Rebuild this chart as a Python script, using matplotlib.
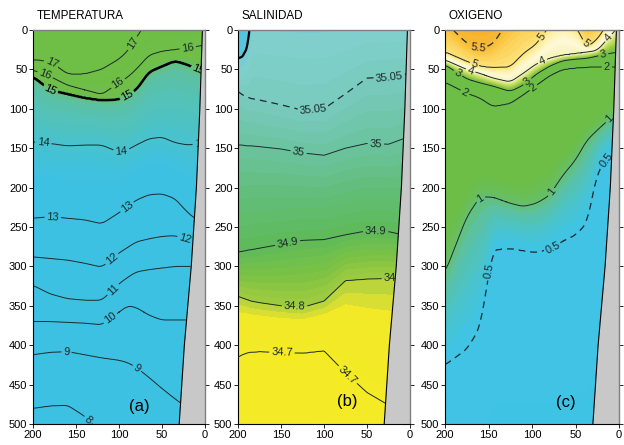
import numpy as np
import matplotlib
matplotlib.use("Agg")
import matplotlib.pyplot as plt
from matplotlib.colors import LinearSegmentedColormap
from matplotlib import font_manager

# ---------------- DATA ----------------
# Temperature: depth (m) of each isotherm at each station (distance, km)
t_stations = [200, 180, 160, 140, 120, 100, 90, 80, 65, 50, 35, 20, 5, 0]
t_levels = [18, 17, 16, 15, 14, 13, 12, 11, 10, 9, 8, 7]
t_depths = [
    [-60] * 14,
    [38, 40, 56, 56, 50, 37, 27, 10, -15, -20, -20, -20, -20, -20],
    [51, 59, 70, 76, 82, 67, 60, 50, 32, 27, 25, 23, 20, 19],
    [59, 76, 81, 86, 89, 88, 82, 76, 53, 46, 39, 44, 52, 54],
    [142, 144, 147, 146, 146, 155, 152, 146, 138, 136, 143, 146, 144, 144],
    [239, 237, 239, 241, 246, 232, 224, 216, 209, 208, 214, 232, 245, 250],
    [288, 290, 292, 296, 301, 283, 276, 269, 265, 262, 261, 266, 270, 272],
    [324, 335, 341, 343, 343, 322, 314, 307, 304, 302, 300, 300, 300, 300],
    [370, 370, 371, 372, 374, 358, 350, 352, 362, 368, 368, 368, 368, 368],
    [412, 409, 408, 412, 416, 419, 422, 428, 441, 455, 468, 480, 490, 492],
    [480, 477, 476, 490, 512, 525, 530, 535, 540, 545, 550, 555, 560, 560],
    [640] * 14,
]

# Salinity: depth of each isohaline at each station
s_stations = [200, 195, 190, 187, 185, 175, 150, 125, 100, 75, 50, 25, 0]
s_levels = [35.2, 35.1, 35.05, 35.0, 34.9, 34.8, 34.7, 34.6]
s_depths = [
    [-80] * 13,
    [36, 34, 24, 4, -25, -30, -30, -30, -30, -30, -30, -30, -30],
    [78, 82, 85, 86, 87, 89, 95, 102, 100, 81, 61, 60, 55],
    [146, 146, 147, 147, 147, 148, 151, 156, 159, 150, 144, 145, 135],
    [282, 281, 280, 279, 279, 277, 272, 267, 266, 260, 255, 256, 262],
    [338, 340, 342, 343, 344, 346, 350, 352, 344, 318, 316, 315, 315],
    [415, 412, 410, 409, 409, 408, 409, 410, 407, 435, 460, 476, 490],
    [650] * 13,
]

# Oxygen: depth of each iso-oxygen line at each station
o_stations = [200, 175, 160, 145, 125, 110, 95, 80, 65, 50, 37, 25, 12, 0]
o_levels = [6.0, 5.5, 5.0, 4.0, 3.0, 2.0, 1.0, 0.5, 0.0]
o_depths = [
    [-60] * 14,
    [-10, 17, 24, 18, -15, -30, -30, -30, -30, -25, -5, -15, -30, -40],
    [28, 40, 46, 48, 47, 30, 18, -5, -20, -5, 22, 12, -10, -20],
    [38, 50, 55, 61, 66, 55, 43, 36, 32, 30, 28, 26, 10, -5],
    [44, 62, 67, 71, 78, 70, 56, 46, 39, 37, 36, 33, 30, 28],
    [66, 80, 86, 97, 93, 82, 70, 58, 50, 48, 47, 47, 47, 47],
    [308, 237, 212, 212, 220, 224, 220, 210, 185, 165, 140, 127, 114, 100],
    [425, 405, 378, 279, 277, 280, 282, 278, 268, 260, 245, 181, 160, 145],
    [700] * 14,
]

# Bottom topography (right side)
topo_depth = [0, 100, 200, 300, 400, 500]
topo_x = [3, 6, 10, 16, 24, 30]

titles = ["TEMPERATURA", "SALINIDAD", "OXIGENO"]
panel_tags = ["(a)", "(b)", "(c)"]
x_ticks = [200, 150, 100, 50, 0]
y_ticks = list(range(0, 501, 50))

# ---------------- FONT ----------------
names = {f.name for f in font_manager.fontManager.ttflist}
fam = "Liberation Sans Narrow" if "Liberation Sans Narrow" in names else "Liberation Sans"
plt.rcParams["font.family"] = [fam, "DejaVu Sans"]

xg = np.linspace(0, 200, 401)
zg = np.linspace(0, 500, 501)


def build_field(stations, levels, depths, smooth=21):
    st = np.asarray(stations, float)
    order = np.argsort(st)
    D = []
    for d in depths:
        d = np.asarray(d, float)
        di = np.interp(xg, st[order], d[order])
        if smooth > 1:
            k = np.ones(smooth) / smooth
            dp = np.pad(di, smooth // 2, mode="edge")
            di = np.convolve(dp, k, mode="valid")
        D.append(di)
    D = np.array(D)
    vals = np.asarray(levels, float)
    F = np.empty((len(zg), len(xg)))
    for i in range(len(xg)):
        col = D[:, i]
        idx = np.argsort(col)
        F[:, i] = np.interp(zg, col[idx], vals[idx])
    return F


def mkcmap(pairs, vmin, vmax):
    return LinearSegmentedColormap.from_list(
        "c", [((v - vmin) / (vmax - vmin), c) for v, c in pairs])


T = build_field(t_stations, t_levels, t_depths)
S = build_field(s_stations, s_levels, s_depths, smooth=5)
O = build_field(o_stations, o_levels, o_depths)

t_cmap = mkcmap([(7, "#3DC1E3"), (13.5, "#3DC1E3"), (14.0, "#47C2D0"), (14.5, "#52C2BA"),
                 (14.9, "#5CC1A2"), (15.1, "#68BF6A"), (15.4, "#6EBE48"), (18, "#6FBE44")], 7, 18)
s_cmap = mkcmap([(34.6, "#F6EB23"), (34.77, "#F2E927"), (34.79, "#C5D83A"), (34.8, "#A2CD3E"),
                 (34.85, "#7CC245"), (34.9, "#5FBA58"), (34.95, "#62BD78"), (35.0, "#6BC39E"),
                 (35.05, "#78CBBE"), (35.09, "#82D0D0"), (35.105, "#5AC6DE"), (35.2, "#3BBFE6")],
                34.6, 35.2)
o_cmap = mkcmap([(0, "#3FC3E6"), (0.55, "#40C3E4"), (0.75, "#4CC3C6"), (0.9, "#5CC1A0"),
                 (1.05, "#68BF5E"), (1.2, "#6CBE47"), (3.0, "#6DBE45"), (3.3, "#8AC640"),
                 (3.65, "#C8DE63"), (4.0, "#F4F3B5"), (4.4, "#FFF9DA"), (4.8, "#FEEFA0"),
                 (5.1, "#FDDE70"), (5.4, "#FAC440"), (5.7, "#F6AE2A"), (6.0, "#F5A020")], 0, 6)

fig = plt.figure(figsize=(6.24, 4.45), dpi=100)
positions = [[33 / 624, 0.0472, 172 / 624, 0.8854],
             [238 / 624, 0.0472, 172 / 624, 0.8854],
             [445 / 624, 0.0472, 174 / 624, 0.8854]]
axes = [fig.add_axes(p) for p in positions]

DASH = (0, (5.5, 4))
LC = "#1c2b2b"


def finish(ax, title, tag, tagpos):
    poly_x = list(topo_x) + [-2, -2]
    poly_y = list(topo_depth) + [500, 0]
    ax.fill(poly_x, poly_y, color="#C8C8C8", zorder=6, lw=0)
    ax.plot(topo_x, topo_depth, color="k", lw=0.8, zorder=7)
    ax.set_xlim(200, 0)
    ax.set_ylim(500, 0)
    ax.set_xticks(x_ticks)
    ax.set_yticks(y_ticks)
    ax.tick_params(direction="out", length=3, width=0.6, labelsize=8, pad=1, right=True)
    for s in ["left", "bottom"]:
        ax.spines[s].set_linewidth(0.8)
        ax.spines[s].set_zorder(8)
    for s in ["top", "right"]:
        ax.spines[s].set_color("#808080")
        ax.spines[s].set_linewidth(1.0)
        ax.spines[s].set_zorder(8)
    ax.text(0.02, 1.036, title, transform=ax.transAxes, fontsize=8.4, va="center", ha="left")
    ax.text(tagpos[0], tagpos[1], tag, fontsize=12, ha="center", va="center", zorder=9)


# ---- Temperature ----
ax = axes[0]
ax.contourf(xg, zg, T, levels=np.linspace(7, 18, 90), cmap=t_cmap, vmin=7, vmax=18)
tl = [8, 9, 10, 11, 12, 13, 14, 16, 17]
cs = ax.contour(xg, zg, T, levels=tl, colors=LC, linewidths=0.7)
cs15 = ax.contour(xg, zg, T, levels=[15], colors="k", linewidths=1.8)
ax.clabel(cs, fmt="%d", fontsize=8, inline=True, inline_spacing=2,
          manual=[(177, 40), (84, 17), (186, 57), (101, 68), (20, 23), (188, 143), (97, 156),
                  (5, 144), (177, 236), (91, 224), (110, 288), (23, 265), (108, 328), (8, 300),
                  (110, 366), (10, 368), (161, 408), (79, 429), (136, 495)])
ax.clabel(cs15, fmt="%d", fontsize=8, inline=True, inline_spacing=2,
          manual=[(180, 76), (91, 82), (8, 51)])
finish(ax, titles[0], panel_tags[0], (76, 478))

# ---- Salinity ----
ax = axes[1]
ax.contourf(xg, zg, S, levels=np.arange(34.6, 35.2001, 0.0125), cmap=s_cmap, vmin=34.6, vmax=35.2)
cs = ax.contour(xg, zg, S, levels=[34.7, 34.8, 34.9, 35.0], colors=LC, linewidths=0.7)
csd = ax.contour(xg, zg, S, levels=[35.05], colors=LC, linewidths=0.9, linestyles="dashed")
csd.set_linestyle(DASH)
csb = ax.contour(xg, zg, S, levels=[35.1], colors="k", linewidths=1.6)
ax.clabel(cs, fmt={34.7: "34.7", 34.8: "34.8", 34.9: "34.9", 35.0: "35"}, fontsize=8,
          inline=True, inline_spacing=2,
          manual=[(129, 152), (40, 152), (142, 273), (40, 255), (134, 350), (18, 315),
                  (149, 410), (73, 438)])
ax.clabel(csd, fmt={35.05: "35.05"}, fontsize=8, inline=True, inline_spacing=2,
          manual=[(112, 104), (24, 60)])
finish(ax, titles[1], panel_tags[1], (73, 472))

# ---- Oxygen ----
ax = axes[2]
ax.contourf(xg, zg, O, levels=np.linspace(0, 6, 90), cmap=o_cmap, vmin=0, vmax=6)
cs = ax.contour(xg, zg, O, levels=[1, 2, 3, 4, 5], colors=LC, linewidths=0.7)
csd = ax.contour(xg, zg, O, levels=[0.5, 5.5], colors=LC, linewidths=0.9, linestyles="dashed")
csd.set_linestyle(DASH)
ax.clabel(cs, fmt="%d", fontsize=8, inline=True, inline_spacing=2,
          manual=[(166, 42), (89, 8), (40, 20), (171, 53), (89, 38), (13, 9), (186, 57),
                  (105, 66), (18, 32), (177, 78), (99, 72), (14, 47), (10, 114), (76, 207),
                  (160, 213)])
ax.clabel(csd, fmt={0.5: "0.5", 5.5: "5.5"}, fontsize=8, inline=True, inline_spacing=2,
          manual=[(162, 23), (14, 165), (76, 277), (156, 305)])
finish(ax, titles[2], panel_tags[2], (61, 473))

fig.savefig("out.png", dpi=100)
